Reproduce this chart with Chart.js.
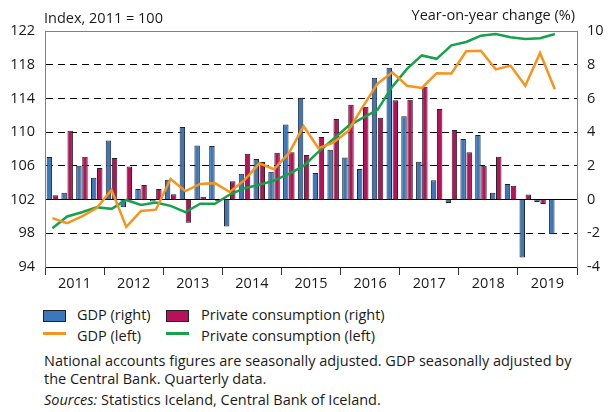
<!DOCTYPE html>
<html>
<head>
<meta charset="utf-8">
<script src="https://cdn.jsdelivr.net/npm/chart.js@4/dist/chart.umd.min.js"></script>
<style>
  html, body { margin: 0; padding: 0; background: #fff; }
  body { width: 612px; height: 412px; position: relative; overflow: hidden;
         font-family: 'Open Sans', sans-serif; font-size: 14.5px; color: #1a1a1a; }
  #wrap { position: absolute; left: 0; top: 0; width: 612px; height: 300px; }
  .t { position: absolute; white-space: nowrap; line-height: 18px; }
  .sw { position: absolute; width: 23px; height: 12px; box-sizing: border-box; border: 1px solid #222; }
  .ln { position: absolute; width: 23px; height: 3px; }
</style>
</head>
<body>
<div id="wrap"><canvas id="chart"></canvas></div>

<div class="t" style="left:44px; top:9px;">Index, 2011 = 100</div>
<div class="t" style="right:37px; top:6px;">Year-on-year change (%)</div>

<div class="sw" style="left:43px; top:310px; background:#3a77bd;"></div>
<div class="t" style="left:77px; top:306px;">GDP (right)</div>
<div class="sw" style="left:166px; top:310px; background:#b8105b;"></div>
<div class="t" style="left:201px; top:306px;">Private consumption (right)</div>
<div class="ln" style="left:43px; top:332px; background:#f7941d;"></div>
<div class="t" style="left:77px; top:327px;">GDP (left)</div>
<div class="ln" style="left:166px; top:332px; background:#16a24a;"></div>
<div class="t" style="left:201px; top:327px;">Private consumption (left)</div>

<div class="t" style="left:44px; top:352px;">National accounts figures are seasonally adjusted. GDP seasonally adjusted by</div>
<div class="t" style="left:44px; top:370px;">the Central Bank. Quarterly data.</div>
<div class="t" style="left:44px; top:391px;"><i>Sources:</i> Statistics Iceland, Central Bank of Iceland.</div>

<script>
// quarterly, 2011Q1 - 2019Q3 (axis runs to 2019Q4)
const years = ['2011', '2012', '2013', '2014', '2015', '2016', '2017', '2018', '2019'];
const quarters = ['Q1', 'Q2', 'Q3', 'Q4'];
const quarterLabels = years.flatMap((y) => quarters.map((q) => y + q));

// year-on-year change, % (right axis)
const gdpChange = [
  2.52, 0.40, 2.00, 1.29, 3.51, -0.45, 0.62, -0.12, 1.17, 4.30, 3.21, 3.18,
  -1.60, 1.53, 2.40, 1.65, 4.46, 6.04, 1.57, 2.96, 2.50, 1.81, 7.23, 7.82,
  4.94, 2.24, 1.15, -0.21, 3.60, 3.83, 0.40, 0.93, -3.43, -0.14, -2.06,
];
const consChange = [
  0.26, 4.09, 2.54, 1.87, 2.46, 1.96, 0.87, 0.62, 0.32, -1.37, 0.16, -0.10,
  1.09, 2.72, 2.23, 2.78, 2.80, 2.64, 3.71, 4.78, 5.62, 5.50, 4.85, 5.89,
  5.92, 6.69, 5.38, 4.13, 2.80, 2.00, 2.54, 0.82, 0.30, -0.26, 0.03,
];

// index, 2011 = 100 (left axis)
const gdpIndex = [
  99.8, 99.2, 100.0, 101.0, 103.15, 98.75, 100.65, 100.8, 104.45, 103.0, 103.85, 103.95,
  102.9, 104.3, 106.3, 105.6, 107.5, 110.7, 108.1, 108.75, 110.1, 113.0, 115.75, 117.1,
  115.5, 115.25, 117.0, 116.95, 119.6, 119.65, 117.45, 117.9, 115.5, 119.4, 115.1,
];
const consIndex = [
  98.6, 100.0, 100.5, 101.1, 100.9, 101.95, 101.35, 101.65, 101.25, 100.5, 101.5, 101.5,
  102.6, 103.35, 103.75, 104.25, 105.05, 106.0, 107.65, 109.15, 110.7, 111.7, 112.65, 115.4,
  117.5, 119.1, 118.7, 120.3, 120.7, 121.45, 121.65, 121.25, 121.05, 121.15, 121.65,
];

const C = {
  blue: '#3a77bd',
  magenta: '#b8105b',
  orange: '#f7941d',
  green: '#16a24a',
  frame: '#808080',
  text: '#1a1a1a',
};

const FONT = { family: "'Open Sans', sans-serif", size: 14.5 };

new Chart(document.getElementById('chart'), {
  type: 'bar',
  data: {
    labels: quarterLabels,
    datasets: [
      {
        type: 'line', data: gdpIndex, yAxisID: 'yL', xAxisID: 'x', order: 0,
        borderColor: C.orange, borderWidth: 2.5, pointRadius: 0, tension: 0, fill: false,
      },
      {
        type: 'line', data: consIndex, yAxisID: 'yL', xAxisID: 'x', order: 1,
        borderColor: C.green, borderWidth: 2.5, pointRadius: 0, tension: 0, fill: false,
      },
      {
        data: gdpChange, yAxisID: 'yR', xAxisID: 'x', order: 2,
        backgroundColor: C.blue, borderColor: '#222', borderWidth: 1,
        categoryPercentage: 0.82, barPercentage: 0.9,
      },
      {
        data: consChange, yAxisID: 'yR', xAxisID: 'x', order: 2,
        backgroundColor: C.magenta, borderColor: '#222', borderWidth: 1,
        categoryPercentage: 0.82, barPercentage: 0.9,
      },
    ],
  },
  options: {
    responsive: true,
    maintainAspectRatio: false,
    animation: false,
    layout: { padding: { top: 31, left: 0, right: 0, bottom: 0 } },
    plugins: { legend: { display: false }, tooltip: { enabled: false } },
    scales: {
      x: { display: false, offset: true },
      years: {
        type: 'category',
        labels: years,
        position: 'bottom',
        offset: true,
        grid: { offset: true, drawOnChartArea: false, tickLength: 8, tickColor: '#333', tickWidth: 1 },
        border: { color: '#000', width: 1 },
        ticks: { color: C.text, font: FONT, padding: 0, maxRotation: 0 },
        afterFit: (s) => { s.height = 33; },
      },
      yL: {
        position: 'left',
        min: 94, max: 122,
        ticks: { stepSize: 4, color: C.text, font: FONT, padding: 10 },
        grid: {
          drawTicks: false,
          lineWidth: 1,
          color: (c) => (c.tick.value === 122 ? C.frame : '#000'),
        },
        border: {
          color: C.frame, width: 1,
          dash: (c) => (c.tick && (c.tick.value === 102 || c.tick.value === 122 || c.tick.value === 94) ? [] : [7, 5]),
        },
        afterFit: (s) => { s.width = 45; },
      },
      yR: {
        position: 'right',
        min: -4, max: 10,
        ticks: { stepSize: 2, color: C.text, font: FONT, padding: 10 },
        grid: { drawOnChartArea: false, drawTicks: false },
        border: { color: C.frame, width: 1 },
        afterFit: (s) => { s.width = 35; },
      },
    },
  },
});
</script>
</body>
</html>
